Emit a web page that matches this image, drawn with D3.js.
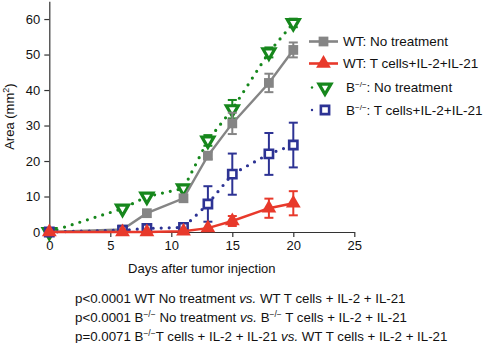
<!DOCTYPE html>
<html>
<head>
<meta charset="utf-8">
<script src="https://cdn.jsdelivr.net/npm/d3@7"></script>
<style>
  body { margin: 0; background: #fff; }
  text { font-family: "Liberation Sans", Arial, Helvetica, sans-serif; }
</style>
</head>
<body>
<div id="main"></div>
<script>
// days measured
var days = [0, 6, 8, 11, 13, 15, 18, 20];

// mean tumour area (mm2) and error for each group
var wtNone = [0, 0.7, 5.3, 9.5, 21.5, 30.6, 42.0, 51.3];
var wtNoneErr = [0, 0.3, 0.5, 0.6, 1.0, 3.0, 2.6, 2.1];
var wtTcell = [0, 0, 0, 0.2, 1.1, 3.1, 6.7, 8.1];
var wtTcellErr = [0, 0, 0, 0.2, 0.4, 1.4, 2.7, 3.4];
var bNone = [0, 6.6, 10.0, 12.3, 25.8, 34.6, 50.6, 58.9];
var bNoneErr = [0, 0.5, 0.6, 0.8, 1.5, 2.6, 1.4, 1.2];
var bTcell = [0, 0.5, 1.0, 1.3, 7.9, 16.3, 22.0, 24.5];
var bTcellErr = [0, 0.3, 0.5, 0.7, 5.0, 5.8, 5.9, 6.3];

var xTicks = [0, 5, 10, 15, 20, 25];
var yTicks = [0, 10, 20, 30, 40, 50, 60];

var pLines = [
  ["p<0.0001 WT No treatment ", "vs.", " WT T cells + IL-2 + IL-21"],
  ["p<0.0001 B", "\u2212/\u2212", " No treatment ", "vs.", " B", "\u2212/\u2212", " T cells + IL-2 + IL-21"],
  ["p=0.0071 B", "\u2212/\u2212", "T cells + IL-2 + IL-21 ", "vs.", " WT T cells + IL-2 + IL-21"]
];

var series = [
  { name: "WT: No treatment", sup: null, vals: wtNone, err: wtNoneErr,
    color: "#858585", dotted: false, marker: "square", open: false },
  { name: "WT: T cells+IL-2+IL-21", sup: null, vals: wtTcell, err: wtTcellErr,
    color: "#e8392b", dotted: false, marker: "triangle", open: false },
  { name: ": No treatment", sup: "B", vals: bNone, err: bNoneErr,
    color: "#16871c", dotted: true, marker: "down", open: true },
  { name: ": T cells+IL-2+IL-21", sup: "B", vals: bTcell, err: bTcellErr,
    color: "#2d3394", dotted: true, marker: "square", open: true }
];

var svg = d3.select("#main").append("svg")
    .attr("width", 485)
    .attr("height", 343);

var x = d3.scaleLinear().domain([0, 25]).range([49.3, 354.3]);
var y = d3.scaleLinear().domain([0, 65]).range([232, 1.3]);

// axes
var xAxis = svg.append("g")
    .attr("transform", "translate(0," + y(0) + ")")
    .call(d3.axisBottom(x).tickValues(xTicks).tickSize(5).tickSizeOuter(0).tickPadding(4));
var yAxis = svg.append("g")
    .attr("transform", "translate(" + x(0) + ",0)")
    .call(d3.axisLeft(y).tickValues(yTicks).tickSize(5).tickSizeOuter(0).tickPadding(4));

[xAxis, yAxis].forEach(function(a) {
  a.select(".domain").attr("stroke", "#333").attr("stroke-width", 1.2);
  a.selectAll(".tick line").attr("stroke", "#333").attr("stroke-width", 1.2);
  a.selectAll(".tick text")
    .attr("font-size", 13)
    .attr("fill", "#111")
    .style("font-family", '"Liberation Sans", Arial, sans-serif');
});

svg.append("text")
    .attr("x", (x(0) + x(25)) / 2)
    .attr("y", 273)
    .attr("text-anchor", "middle")
    .attr("font-size", 13)
    .attr("fill", "#111")
    .text("Days after tumor injection");

var yLabel = svg.append("text")
    .attr("transform", "translate(14," + y(32.5) + ") rotate(-90)")
    .attr("text-anchor", "middle")
    .attr("font-size", 13)
    .attr("fill", "#111");
yLabel.append("tspan").text("Area (mm");
yLabel.append("tspan").attr("font-size", 9).attr("dy", -5).text("2");
yLabel.append("tspan").attr("dy", 5).text(")");

var line = d3.line()
    .x(function(d) { return x(d[0]); })
    .y(function(d) { return y(d[1]); });

function drawMarker(g, s, cx, cy) {
  var type = s.marker === "square" ? d3.symbolSquare : d3.symbolTriangle;
  var size = s.marker === "square" ? (s.open ? 68 : 95) : (s.open ? 62 : 95);
  var m = g.append("path")
      .attr("d", d3.symbol().type(type).size(size)())
      .attr("transform", "translate(" + cx + "," + cy + ")" +
            (s.marker === "down" ? " rotate(180)" : ""));
  if (s.open) {
    m.attr("fill", "#fff").attr("stroke", s.color)
        .attr("stroke-width", s.marker === "down" ? 3.2 : 2.6);
  } else {
    m.attr("fill", s.color);
  }
}

var drawOrder = [2, 0, 3, 1];
drawOrder.forEach(function(i) {
  var s = series[i];
  var pts = days.map(function(d, j) { return [d, s.vals[j], s.err[j]]; });
  var g = svg.append("g");

  var path = g.append("path")
      .datum(pts)
      .attr("d", line)
      .attr("fill", "none")
      .attr("stroke", s.color);
  if (s.dotted) {
    path.attr("stroke-width", 3.2)
        .attr("stroke-linecap", "round")
        .attr("stroke-dasharray", "0 8");
  } else {
    path.attr("stroke-width", 2.4);
  }

  // error bars with caps
  pts.forEach(function(p) {
    if (p[2] < 0.9) return;
    var cx = x(p[0]);
    var top = y(p[1] + p[2]), bot = y(p[1] - p[2]);
    g.append("line").attr("x1", cx).attr("x2", cx).attr("y1", top).attr("y2", bot)
        .attr("stroke", s.color).attr("stroke-width", 2);
    [top, bot].forEach(function(yy) {
      g.append("line").attr("x1", cx - 4.5).attr("x2", cx + 4.5).attr("y1", yy).attr("y2", yy)
          .attr("stroke", s.color).attr("stroke-width", 2);
    });
  });

  pts.forEach(function(p) { drawMarker(g, s, x(p[0]), y(p[1])); });
});

// legend
var legendY = [41.5, 63.5, 87.5, 110];
series.forEach(function(s, i) {
  var g = svg.append("g").attr("transform", "translate(0," + legendY[i] + ")");
  var l = g.append("line")
      .attr("x1", s.dotted ? 312 : 309).attr("x2", s.dotted ? 339 : 338)
      .attr("y1", 0).attr("y2", 0)
      .attr("stroke", s.color);
  if (s.dotted) {
    l.attr("stroke-width", 2.4).attr("stroke-linecap", "round").attr("stroke-dasharray", "0 27");
  } else {
    l.attr("stroke-width", 2.6);
  }
  drawMarker(g, s, s.dotted ? 325 : 323.5, 0);
  var t = g.append("text")
      .attr("x", s.dotted ? 346 : 343)
      .attr("y", 4.7)
      .attr("font-size", 13.5)
      .attr("fill", "#111");
  if (s.sup) {
    t.append("tspan").text(s.sup);
    t.append("tspan").attr("font-size", 8).attr("dy", -5).text("\u2212/\u2212");
    t.append("tspan").attr("dy", 5).text(s.name);
  } else {
    t.text(s.name);
  }
});

// p-values under the chart
var pY = [303.3, 322, 340.7];
pLines.forEach(function(parts, i) {
  var t = svg.append("text")
      .attr("x", 75)
      .attr("y", pY[i])
      .attr("font-size", 13.3)
      .attr("fill", "#111");
  var raised = false;
  parts.forEach(function(p) {
    var ts = t.append("tspan").text(p);
    if (p === "vs.") ts.attr("font-style", "italic");
    if (p === "\u2212/\u2212") {
      ts.attr("font-size", 8.5).attr("dy", -5);
      raised = true;
    } else if (raised) {
      ts.attr("dy", 5);
      raised = false;
    }
  });
});
</script>
</body>
</html>
